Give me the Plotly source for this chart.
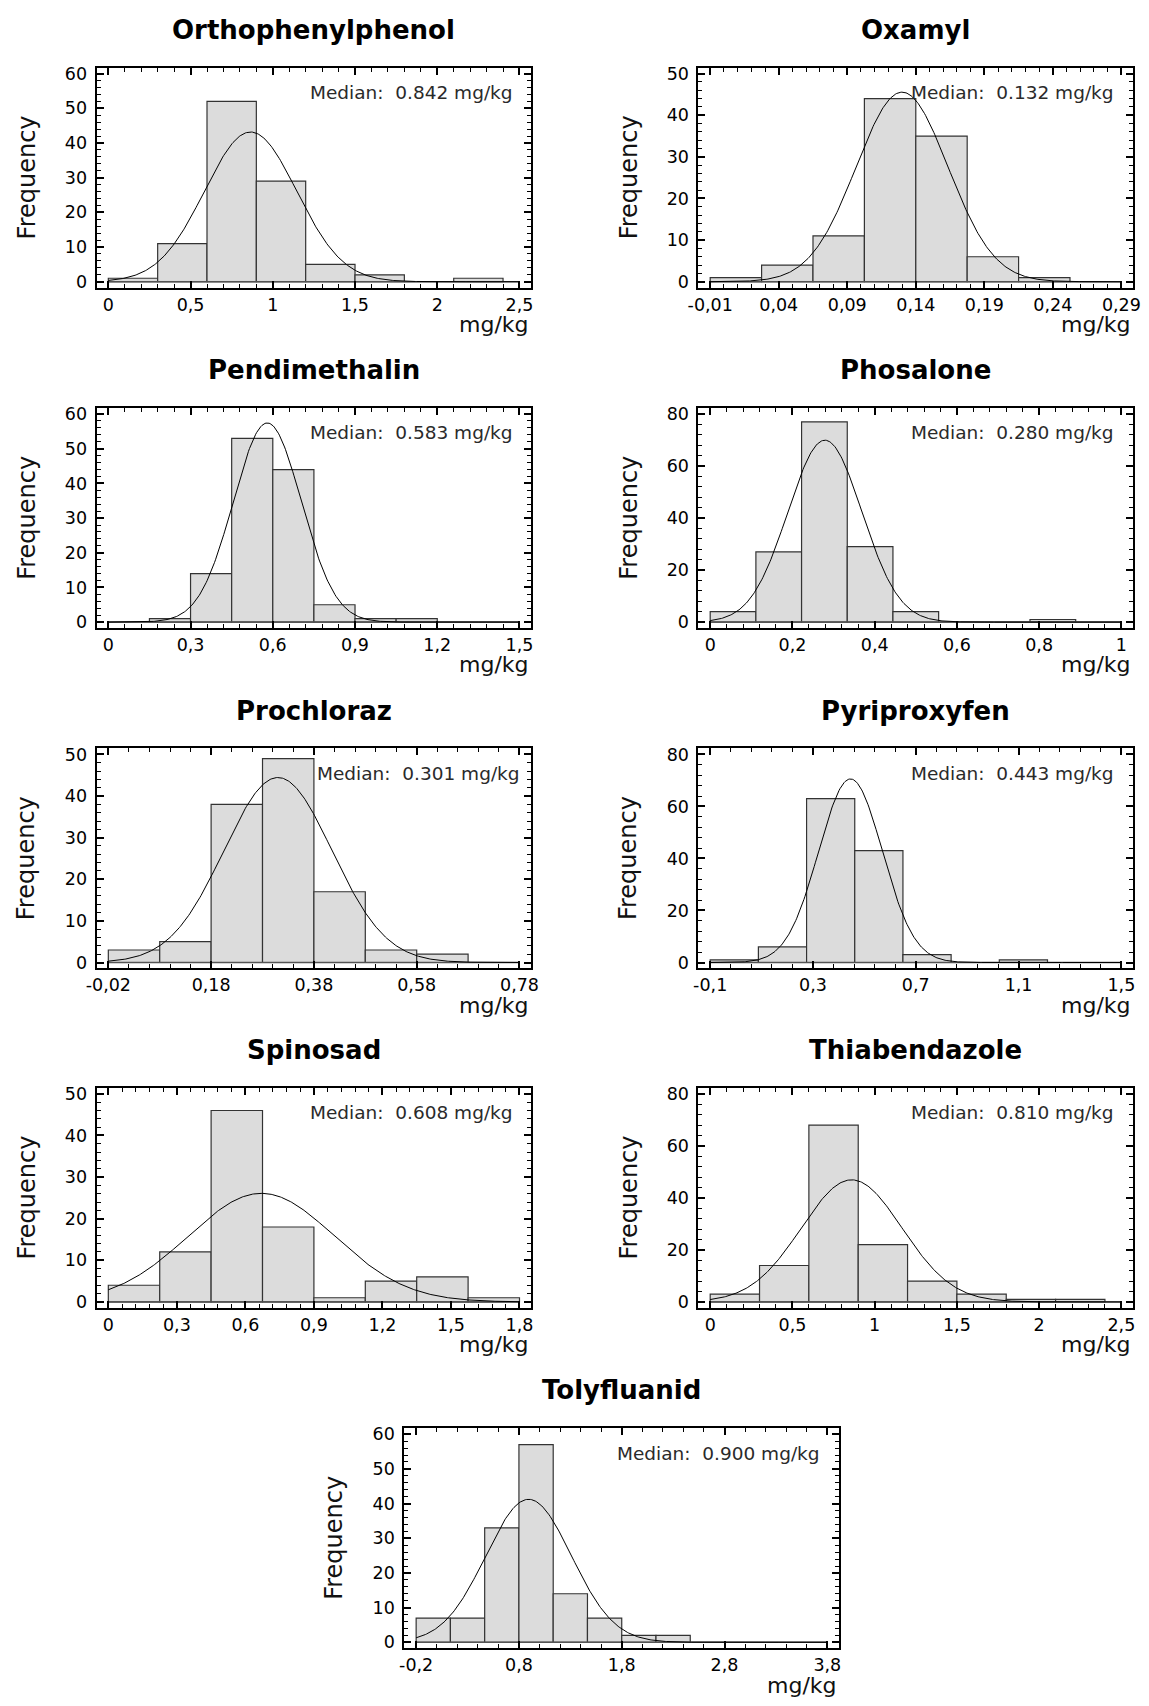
import numpy as np
import plotly.graph_objects as go

# ---------------------------------------------------------------------------
# Data: residue concentrations (mg/kg) — histogram counts, bins, fitted normals
# ---------------------------------------------------------------------------
names = ["Orthophenylphenol", "Oxamyl", "Pendimethalin", "Phosalone",
         "Prochloraz", "Pyriproxyfen", "Spinosad", "Thiabendazole", "Tolyfluanid"]
medians = ["0.842", "0.132", "0.583", "0.280", "0.301", "0.443", "0.608", "0.810", "0.900"]

counts_orthophenylphenol = [1, 11, 52, 29, 5, 2, 0, 1]
counts_oxamyl = [1, 4, 11, 44, 35, 6, 1, 0]
counts_pendimethalin = [0, 1, 14, 53, 44, 5, 1, 1, 0, 0]
counts_phosalone = [4, 27, 77, 29, 4, 0, 0, 1, 0]
counts_prochloraz = [3, 5, 38, 49, 17, 3, 2, 0]
counts_pyriproxyfen = [1, 6, 63, 43, 3, 0, 1, 0]
counts_spinosad = [4, 12, 46, 18, 1, 5, 6, 1]
counts_thiabendazole = [3, 14, 68, 22, 8, 3, 1, 1]
counts_tolyfluanid = [7, 7, 33, 57, 14, 7, 2, 2, 0, 0, 0, 0]
counts = [counts_orthophenylphenol, counts_oxamyl, counts_pendimethalin,
          counts_phosalone, counts_prochloraz, counts_pyriproxyfen,
          counts_spinosad, counts_thiabendazole, counts_tolyfluanid]

bin_start = [0.0, -0.01, 0.0, 0.0, -0.02, -0.1, 0.0, 0.0, -0.2]
bin_width = [0.3, 0.0375, 0.15, 1 / 9, 0.1, 0.1875, 0.225, 0.3, 1 / 3]

# fitted normal distribution parameters (mg/kg)
fit_mean = [0.865, 0.130, 0.580, 0.279, 0.310, 0.446, 0.670, 0.860, 0.894]
fit_sd = [0.280, 0.0335, 0.124, 0.090, 0.105, 0.124, 0.320, 0.306, 0.416]

# x axis ticks
xticks = [
    [0, 0.5, 1, 1.5, 2, 2.5],
    [-0.01, 0.04, 0.09, 0.14, 0.19, 0.24, 0.29],
    [0, 0.3, 0.6, 0.9, 1.2, 1.5],
    [0, 0.2, 0.4, 0.6, 0.8, 1],
    [-0.02, 0.18, 0.38, 0.58, 0.78],
    [-0.1, 0.3, 0.7, 1.1, 1.5],
    [0, 0.3, 0.6, 0.9, 1.2, 1.5, 1.8],
    [0, 0.5, 1, 1.5, 2, 2.5],
    [-0.2, 0.8, 1.8, 2.8, 3.8],
]
xticklabels = [
    ["0", "0,5", "1", "1,5", "2", "2,5"],
    ["-0,01", "0,04", "0,09", "0,14", "0,19", "0,24", "0,29"],
    ["0", "0,3", "0,6", "0,9", "1,2", "1,5"],
    ["0", "0,2", "0,4", "0,6", "0,8", "1"],
    ["-0,02", "0,18", "0,38", "0,58", "0,78"],
    ["-0,1", "0,3", "0,7", "1,1", "1,5"],
    ["0", "0,3", "0,6", "0,9", "1,2", "1,5", "1,8"],
    ["0", "0,5", "1", "1,5", "2", "2,5"],
    ["-0,2", "0,8", "1,8", "2,8", "3,8"],
]
ymax = [60, 50, 60, 80, 50, 80, 50, 80, 60]
ystep = [10, 10, 10, 20, 10, 20, 10, 20, 10]

# ---------------------------------------------------------------------------
# Page geometry (pixels)
# ---------------------------------------------------------------------------
W, H = 1149, 1706
box_left = [87, 699, 87, 699, 87, 699, 87, 699, 400]
box_top = [64, 64, 406, 406, 748, 748, 1089, 1089, 1431]
median_margin = [17, 17, 17, 17, 9, 17, 17, 17, 17]
BOX_W, BOX_H = 442, 221
PAD = 0.0286

TEXT_FONT = "DejaVu Sans"
TICK_FONT = "DejaVu Sans"


def px(x):
    return x / W


def py(y):
    return 1 - y / H


fig = go.Figure()
layout = dict(
    width=W, height=H,
    margin=dict(l=0, r=0, t=0, b=0),
    paper_bgcolor="white", plot_bgcolor="white",
    showlegend=False,
    annotations=[],
)

for i, name in enumerate(names):
    suffix = "" if i == 0 else str(i + 1)
    xa, ya = "x" + suffix, "y" + suffix
    c = np.array(counts[i], dtype=float)
    bw = bin_width[i]
    centers = bin_start[i] + bw * (np.arange(len(c)) + 0.5)
    xmin, xmax = xticks[i][0], xticks[i][-1]

    # histogram bars
    fig.add_trace(go.Bar(
        x=centers, y=c, width=bw, xaxis=xa, yaxis=ya,
        marker=dict(color="#DCDCDC", line=dict(color="#333333", width=1.2)),
        hoverinfo="skip",
    ))
    # baseline along the histogram range
    fig.add_trace(go.Scatter(
        x=[xmin, xmax], y=[0, 0], mode="lines", xaxis=xa, yaxis=ya,
        line=dict(color="#555555", width=1.5), hoverinfo="skip",
    ))
    # fitted normal curve scaled to counts
    xs = np.linspace(xmin, xmax, 400)
    peak = c.sum() * bw / (fit_sd[i] * np.sqrt(2 * np.pi))
    ys = peak * np.exp(-0.5 * ((xs - fit_mean[i]) / fit_sd[i]) ** 2)
    fig.add_trace(go.Scatter(
        x=xs, y=ys, mode="lines", xaxis=xa, yaxis=ya,
        line=dict(color="black", width=1), hoverinfo="skip",
    ))

    l, t = box_left[i], box_top[i]
    r, b = l + BOX_W, t + BOX_H
    xspan = xmax - xmin
    major_dx = xticks[i][1] - xticks[i][0]

    layout["xaxis" + suffix] = dict(
        domain=[px(l), px(r)], anchor=ya,
        range=[xmin - PAD * xspan, xmax + PAD * xspan],
        tickmode="array", tickvals=xticks[i], ticktext=xticklabels[i],
        ticks="inside", ticklen=7, tickwidth=1.5, tickcolor="black",
        minor=dict(ticks="inside", ticklen=4, tickwidth=1, tickcolor="black",
                   tick0=xmin, dtick=major_dx / 5, showgrid=False),
        showline=True, linecolor="black", linewidth=2, mirror="allticks",
        showgrid=False, zeroline=False,
        tickfont=dict(family=TICK_FONT, size=17.5, color="black"),
        ticklabelstandoff=0,
    )
    layout["yaxis" + suffix] = dict(
        domain=[py(b), py(t)], anchor=xa,
        range=[-PAD * ymax[i], ymax[i] * (1 + PAD)],
        tick0=0, dtick=ystep[i],
        ticks="inside", ticklen=7, tickwidth=1.5, tickcolor="black",
        minor=dict(ticks="inside", ticklen=4, tickwidth=1, tickcolor="black",
                   tick0=0, dtick=ystep[i] / 5, showgrid=False),
        showline=True, linecolor="black", linewidth=2, mirror="allticks",
        showgrid=False, zeroline=False,
        tickfont=dict(family=TICK_FONT, size=17.5, color="black"),
        ticklabelstandoff=4,
    )

    ann = layout["annotations"]
    # panel title
    ann.append(dict(
        text="<b>%s</b>" % name, x=px(l + BOX_W / 2), y=py(t - 38),
        xref="paper", yref="paper", xanchor="center", yanchor="middle",
        showarrow=False, font=dict(family=TEXT_FONT, size=26, color="black"),
    ))
    # y axis title
    ann.append(dict(
        text="Frequency", x=px(l - 71), y=py(t + BOX_H / 2), textangle=-90,
        xref="paper", yref="paper", xanchor="center", yanchor="middle",
        showarrow=False, font=dict(family=TEXT_FONT, size=24, color="#111111"),
    ))
    # x axis unit
    ann.append(dict(
        text="mg/kg", x=px(r), y=py(b + 37),
        xref="paper", yref="paper", xanchor="right", yanchor="middle",
        showarrow=False, font=dict(family=TEXT_FONT, size=22, color="#111111"),
    ))
    # median label
    ann.append(dict(
        text="Median:  %s mg/kg" % medians[i], x=px(r - median_margin[i]),
        y=py(t + 25),
        xref="paper", yref="paper", xanchor="right", yanchor="middle",
        showarrow=False, font=dict(family=TEXT_FONT, size=18.5, color="#2a2a2a"),
    ))

fig.update_layout(**layout)
fig.write_html("out.html")
